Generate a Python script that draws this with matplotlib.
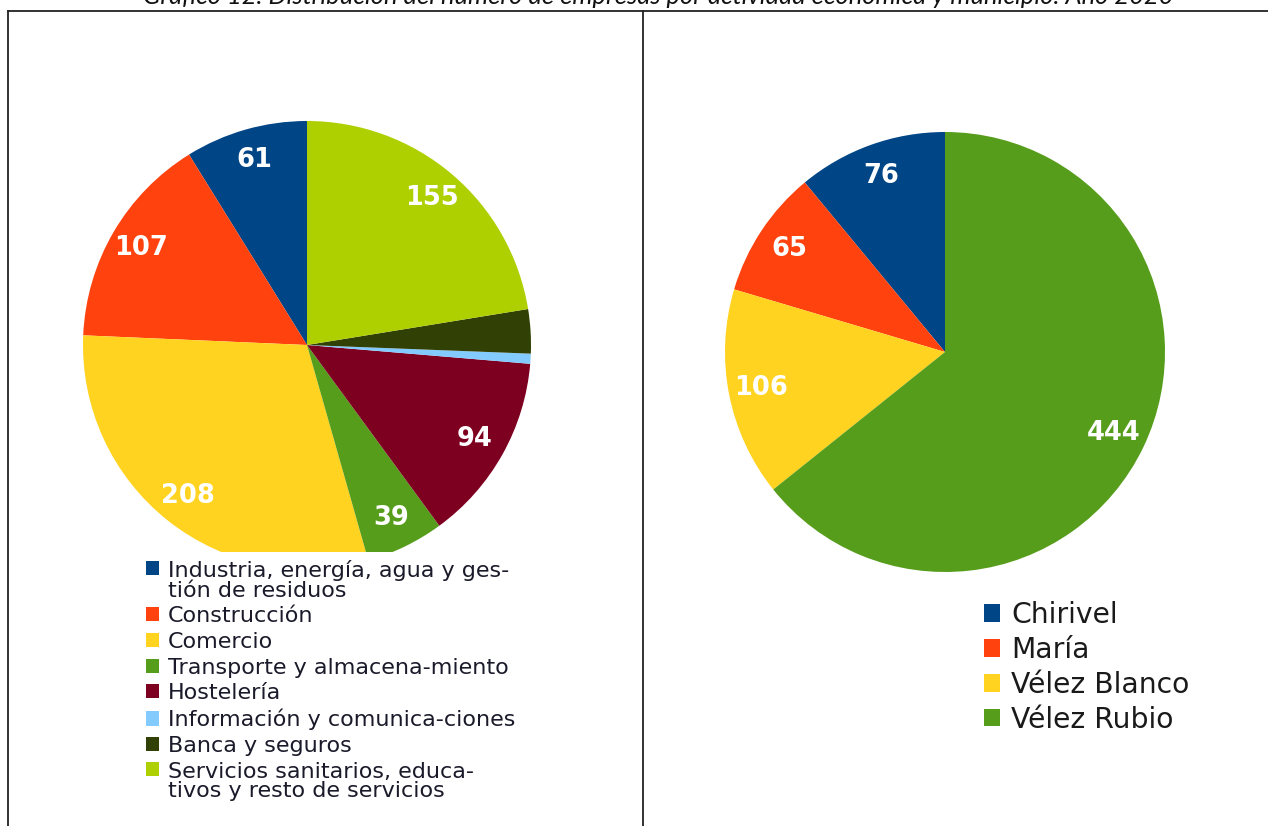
import matplotlib
matplotlib.use('Agg')
import matplotlib.pyplot as plt
from matplotlib.patches import Patch
from matplotlib.lines import Line2D

W, H = 1268, 826

titulo = "Gráfico 12. Distribución del número de empresas por actividad económica y municipio. Año 2020"

actividades = ["Industria, energía, agua y ges-\ntión de residuos", "Construcción", "Comercio",
               "Transporte y almacena-miento", "Hostelería", "Información y comunica-ciones",
               "Banca y seguros", "Servicios sanitarios, educa-\ntivos y resto de servicios"]
empresas_actividad = [61, 107, 208, 39, 94, 5, 22, 155]
etiquetas_actividad = ["61", "107", "208", "39", "94", "", "", "155"]
colores_actividad = ['#004586', '#ff420e', '#ffd320', '#579d1c', '#7e0021', '#83caff', '#314004', '#aecf00']

municipios = ["Chirivel", "María", "Vélez Blanco", "Vélez Rubio"]
empresas_municipio = [76, 65, 106, 444]
etiquetas_municipio = ["76", "65", "106", "444"]
colores_municipio = ['#004586', '#ff420e', '#ffd320', '#579d1c']

fig = plt.figure(figsize=(W / 100, H / 100), dpi=100)


def pie_axes(cx, cy, r, bottom_px=None, pad=1.01):
    top = cy - pad * r
    bot = bottom_px if bottom_px is not None else cy + pad * r
    left = cx - pad * r
    ax = fig.add_axes([left / W, 1 - bot / H, 2 * pad * r / W, (bot - top) / H])
    lims = dict(xlim=(-pad, pad), ylim=(-(bot - cy) / r, pad))
    return ax, lims


label_font = dict(color='white', fontsize=18.5, fontweight='bold', family='DejaVu Sans')

# Left pie (activity), clipped at the bottom by the legend area
axl, lim_l = pie_axes(307, 345, 224, bottom_px=552)
w1, t1 = axl.pie(empresas_actividad, labels=etiquetas_actividad, colors=colores_actividad,
                 startangle=90, counterclock=True, radius=1, labeldistance=0.86,
                 wedgeprops=dict(linewidth=0), textprops=label_font)
axl.set_aspect('auto')
axl.set(**lim_l)
axl.axis('off')
for w in w1:
    w.set_clip_on(True)
for t in t1:
    t.set_ha('center'); t.set_va('center')

# Right pie (municipality)
axr, lim_r = pie_axes(945, 352, 220)
w2, t2 = axr.pie(empresas_municipio, labels=etiquetas_municipio, colors=colores_municipio,
                 startangle=90, counterclock=True, radius=1, labeldistance=0.85,
                 wedgeprops=dict(linewidth=0), textprops=label_font)
axr.set_aspect('auto')
axr.set(**lim_r)
axr.axis('off')
for t in t2:
    t.set_ha('center'); t.set_va('center')

# Legends
fs1 = 16
h1 = [Patch(facecolor=c, edgecolor='none') for c in colores_actividad]
leg1 = fig.legend(h1, actividades, loc='upper left', bbox_to_anchor=(146 / W, 1 - 560 / H),
                  frameon=False, borderpad=0, borderaxespad=0,
                  prop=dict(family='DejaVu Sans', size=fs1),
                  handlelength=0.6, handleheight=0.6, handletextpad=0.4, labelspacing=0.255)
for t, hnd in zip(leg1.get_texts(), leg1.legend_handles):
    t.set_color('#1a1a2a'); t.set_linespacing(0.97)
    if '\n' in t.get_text():
        hnd.set_y(hnd.get_y() + 0.5 * fs1 * 1.15)

h2 = [Patch(facecolor=c, edgecolor='none') for c in colores_municipio]
leg2 = fig.legend(h2, municipios, loc='upper left', bbox_to_anchor=(984 / W, 1 - 601 / H),
                  frameon=False, borderpad=0, borderaxespad=0,
                  prop=dict(family='DejaVu Sans', size=20.3),
                  handlelength=0.57, handleheight=0.57, handletextpad=0.4, labelspacing=0.245)
for t in leg2.get_texts():
    t.set_color('#1a1a1a')

# Frame lines
lc = '#222222'
ytop = 1 - 11 / H
fig.add_artist(Line2D([8 / W, 1], [ytop, ytop], color=lc, lw=1.3))
fig.add_artist(Line2D([8 / W, 8 / W], [0, ytop], color=lc, lw=1.3))
fig.add_artist(Line2D([643 / W, 643 / W], [0, ytop], color=lc, lw=1.3))

# Title (partially cut at top, as in the source)
fig.text(658 / W, 1 - 4 / H, titulo, ha='center', va='baseline', fontsize=18.4,
         style='italic', family='Lato', color='#111111')

fig.savefig('out.png', dpi=100)
